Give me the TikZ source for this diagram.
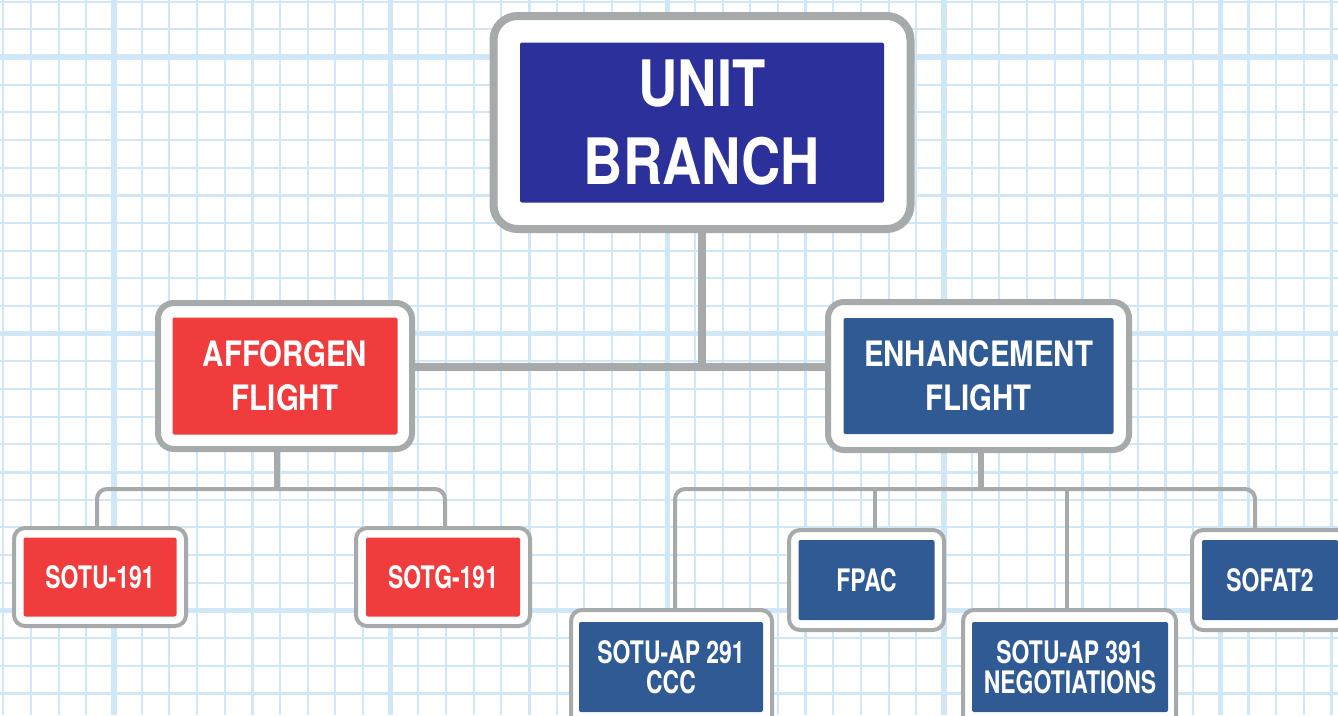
\documentclass[tikz,border=0pt]{standalone}
\usepackage{fontspec}
\newfontfamily\hugefont[FakeStretch=0.85]{TeX Gyre Heros}
\newfontfamily\midfont[FakeStretch=0.84]{TeX Gyre Heros}
\newfontfamily\smallfont[FakeStretch=0.74]{TeX Gyre Heros}
\definecolor{gridblue}{HTML}{CFE7F7}
\definecolor{framegray}{HTML}{A7AAAA}
\definecolor{ubblue}{HTML}{2C309B}
\definecolor{efblue}{HTML}{2F5A94}
\definecolor{afred}{HTML}{F03C3C}
\pgfdeclarelayer{grid}
\pgfdeclarelayer{conn}
\pgfsetlayers{grid,conn,main}
\tikzset{
  gridminor/.style={draw=gridblue, line width=2.1pt},
  gridmid/.style={draw=gridblue, line width=3pt},
  gridmajor/.style={draw=gridblue, line width=5.2pt},
  bigframe/.style={draw=framegray, fill=white, line width=8pt, rounded corners=24pt, inner sep=0pt},
  midframe/.style={draw=framegray, fill=white, line width=6pt, rounded corners=16pt, inner sep=0pt},
  smallframe/.style={draw=framegray, fill=white, line width=4pt, rounded corners=11pt, inner sep=0pt},
  innerbox/.style={inner sep=0pt, text=white, align=center, rounded corners=2pt},
  hugetext/.style={font=\hugefont\bfseries\fontsize{64}{78}\selectfont},
  midtext/.style={font=\midfont\bfseries\fontsize{35}{44}\selectfont},
  smalltext/.style={font=\smallfont\bfseries\fontsize{31}{30}\selectfont},
  thickconn/.style={draw=framegray, line width=8pt},
  medconn/.style={draw=framegray, line width=5.5pt},
  thinconn/.style={draw=framegray, line width=4pt},
}
\begin{document}
\begin{tikzpicture}[x=1pt,y=-1pt]
\useasboundingbox (0,0) rectangle (1338,715);
\clip (0,0) rectangle (1338,715);
\begin{pgfonlayer}{grid}
\fill[white] (0,0) rectangle (1338,715);
\foreach \k in {0,...,48} \draw[gridminor] ({3.3+27.67*\k},0) -- ++(0,715);
\foreach \k in {0,...,25} \draw[gridminor] (0,{1.7+27.67*\k}) -- ++(1338,0);
\foreach \k in {9,19,29,39} \draw[gridmid] ({3.3+27.67*\k},0) -- ++(0,715);
\foreach \k in {7,17} \draw[gridmid] (0,{1.7+27.67*\k}) -- ++(1338,0);
\foreach \k in {4,14,24,34,44} \draw[gridmajor] ({3.3+27.67*\k},0) -- ++(0,715);
\foreach \k in {2,12,22} \draw[gridmajor] (0,{1.7+27.67*\k}) -- ++(1338,0);
\end{pgfonlayer}

% top
\node[bigframe, minimum width=417pt, minimum height=213pt] (ubF) at (702,122.5) {};
\node[innerbox, hugetext, fill=ubblue, minimum width=364pt, minimum height=160pt] (ub) at (ubF.center) {UNIT\\BRANCH};

% flights
\node[midframe, minimum width=254pt, minimum height=146pt] (afF) at (285,376) {};
\node[innerbox, midtext, fill=afred, minimum width=225pt, minimum height=117pt] (af) at (afF.center) {AFFORGEN\\FLIGHT};
\node[midframe, minimum width=301pt, minimum height=148pt] (efF) at (978.5,376) {};
\node[innerbox, midtext, fill=efblue, minimum width=270pt, minimum height=116pt] (ef) at (efF.center) {ENHANCEMENT\\FLIGHT};

% afforgen children
\node[smallframe, minimum width=172pt, minimum height=98pt] (s1F) at (100,577) {};
\node[innerbox, smalltext, fill=afred, minimum width=153pt, minimum height=79pt] (s1) at (s1F.center) {SOTU-191};
\node[smallframe, minimum width=174pt, minimum height=98pt] (s2F) at (443,577) {};
\node[innerbox, smalltext, fill=afred, minimum width=154pt, minimum height=79pt] (s2) at (s2F.center) {SOTG-191};

% enhancement children
\node[smallframe, minimum width=201pt, minimum height=124pt] (p2F) at (671.5,672) {};
\node[innerbox, smalltext, fill=efblue, minimum width=184pt, minimum height=90pt] (p2) at (671,667) {SOTU-AP 291\\CCC};
\node[smallframe, minimum width=155pt, minimum height=100pt] (fpF) at (866.5,580) {};
\node[innerbox, smalltext, fill=efblue, minimum width=136pt, minimum height=80pt] (fp) at (fpF.center) {FPAC};
\node[smallframe, minimum width=213pt, minimum height=124pt] (p3F) at (1069.5,672) {};
\node[innerbox, smalltext, fill=efblue, minimum width=196pt, minimum height=90pt] (p3) at (1070,667) {SOTU-AP 391\\NEGOTIATIONS};
\node[smallframe, minimum width=156pt, minimum height=100pt] (sfF) at (1270,580) {};
\node[innerbox, smalltext, fill=efblue, minimum width=136pt, minimum height=80pt] (sf) at (1270,580) {SOFAT2};

\begin{pgfonlayer}{conn}
\coordinate (jn) at (702,367);
\draw[thickconn] (ubF.south) -- (jn);
\draw[thickconn] (afF.east |- jn) -- (efF.west |- jn);
\coordinate (aj) at (277,489);
\draw[medconn] (aj |- afF.south) -- (aj);
\draw[thinconn, rounded corners=10pt] ([xshift=-3pt]s1F.north) |- (aj) -| ([xshift=2pt]s2F.north);
\coordinate (ej) at (981,489);
\draw[medconn] (ej |- efF.south) -- (ej);
\draw[thinconn, rounded corners=10pt] ([xshift=3.5pt]p2F.north) |- (ej) -| ([xshift=-15pt]sfF.north);
\coordinate (fpd) at ([xshift=8pt]fpF.north);
\coordinate (p3d) at ([xshift=-2.5pt]p3F.north);
\draw[thinconn] (fpd) -- (fpd |- ej);
\draw[thinconn] (p3d) -- (p3d |- ej);
\end{pgfonlayer}
\end{tikzpicture}
\end{document}
